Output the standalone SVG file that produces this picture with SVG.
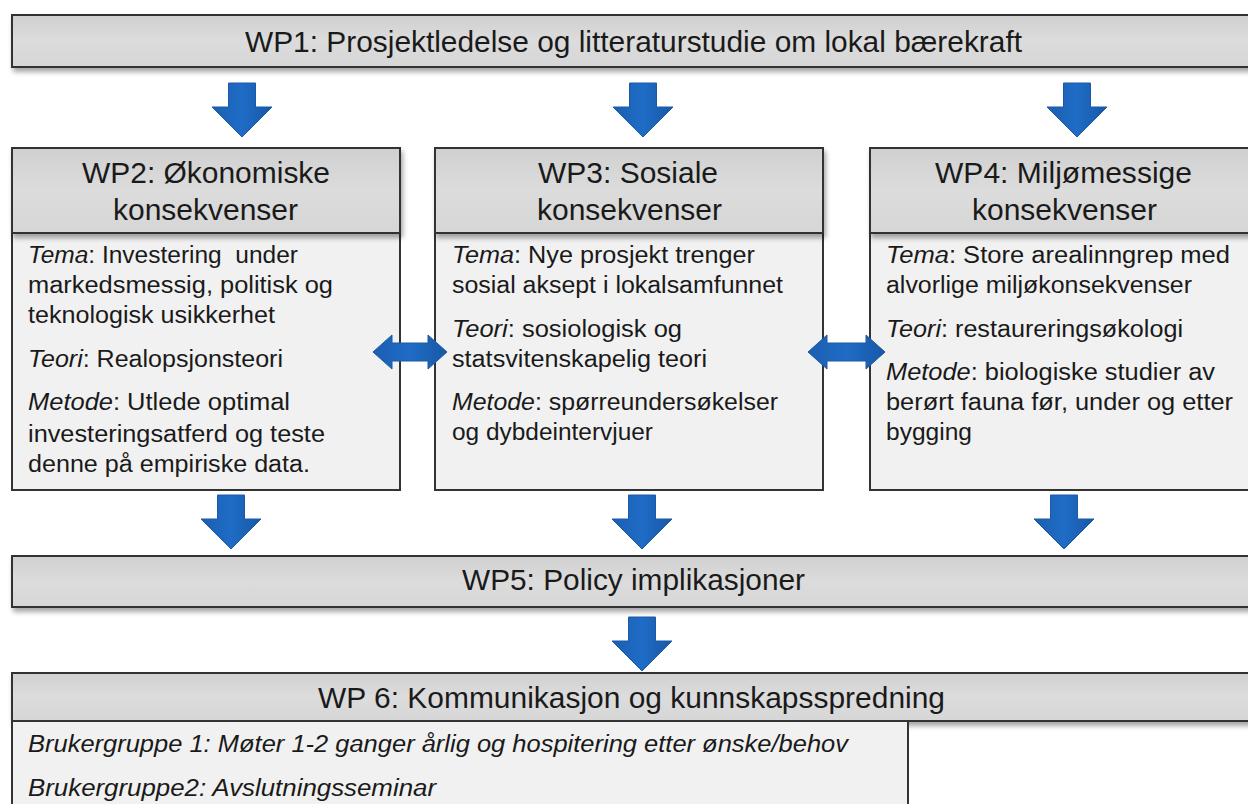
<svg xmlns="http://www.w3.org/2000/svg" width="1248" height="804" viewBox="0 0 1248 804">
<style>
text{font-family:"Liberation Sans",Arial,sans-serif;fill:#1a1a1a}
.h{font-size:29px}
.b{font-size:23px}
.i{font-style:italic}
.bar{fill:url(#gh);stroke:#333;stroke-width:2}
.body{fill:#f1f1f1;stroke:#333;stroke-width:2}
.arr{fill:url(#ga);stroke:#1d5aa6;stroke-width:1}
</style>
<defs>
<linearGradient id="gh" x1="0" y1="0" x2="0" y2="1">
<stop offset="0" stop-color="#d0d0d0"/><stop offset="0.5" stop-color="#dcdcdc"/><stop offset="1" stop-color="#d6d6d6"/>
</linearGradient>
<linearGradient id="ga" x1="0" y1="0" x2="1" y2="0">
<stop offset="0" stop-color="#1b5fb0"/><stop offset="0.5" stop-color="#1f6cc6"/><stop offset="1" stop-color="#1758a6"/>
</linearGradient>
<filter id="sh" x="-5%" y="-20%" width="110%" height="160%">
<feDropShadow dx="2" dy="4" stdDeviation="2.5" flood-color="#000" flood-opacity="0.35"/>
</filter>
<path id="down" d="M-13.5,0 H13.5 V24 H30 L0,54 L-30,24 H-13.5 Z"/>
</defs>

<g id="wp1">
<rect class="bar" x="12" y="15" width="1240" height="52" filter="url(#sh)"/>
<text class="h" x="245" y="52" textLength="777" lengthAdjust="spacingAndGlyphs">WP1: Prosjektledelse og litteraturstudie om lokal bærekraft</text>
</g>

<g id="wp2">
<rect class="body" x="12" y="233" width="388" height="257"/>
<rect class="bar" x="12" y="148" width="388" height="85" filter="url(#sh)"/>
<text class="h" x="82" y="183" textLength="248" lengthAdjust="spacingAndGlyphs">WP2: Økonomiske</text>
<text class="h" x="113" y="220" textLength="185" lengthAdjust="spacingAndGlyphs">konsekvenser</text>
<text class="b" x="28" y="263" textLength="270" lengthAdjust="spacingAndGlyphs"><tspan class="i">Tema</tspan>: Investering&#160; under</text>
<text class="b" x="28" y="293" textLength="305" lengthAdjust="spacingAndGlyphs">markedsmessig, politisk og</text>
<text class="b" x="28" y="323" textLength="247" lengthAdjust="spacingAndGlyphs">teknologisk usikkerhet</text>
<text class="b" x="28" y="367" textLength="255" lengthAdjust="spacingAndGlyphs"><tspan class="i">Teori</tspan>: Realopsjonsteori</text>
<text class="b" x="28" y="410" textLength="262" lengthAdjust="spacingAndGlyphs"><tspan class="i">Metode</tspan>: Utlede optimal</text>
<text class="b" x="28" y="442" textLength="297" lengthAdjust="spacingAndGlyphs">investeringsatferd og teste</text>
<text class="b" x="28" y="472" textLength="282" lengthAdjust="spacingAndGlyphs">denne på empiriske data.</text>
</g>

<g id="wp3">
<rect class="body" x="435" y="233" width="388" height="257"/>
<rect class="bar" x="435" y="148" width="388" height="85" filter="url(#sh)"/>
<text class="h" x="538" y="183" textLength="180" lengthAdjust="spacingAndGlyphs">WP3: Sosiale</text>
<text class="h" x="537" y="220" textLength="185" lengthAdjust="spacingAndGlyphs">konsekvenser</text>
<text class="b" x="452" y="263" textLength="303" lengthAdjust="spacingAndGlyphs"><tspan class="i">Tema</tspan>: Nye prosjekt trenger</text>
<text class="b" x="452" y="293" textLength="331" lengthAdjust="spacingAndGlyphs">sosial aksept i lokalsamfunnet</text>
<text class="b" x="452" y="337" textLength="230" lengthAdjust="spacingAndGlyphs"><tspan class="i">Teori</tspan>: sosiologisk og</text>
<text class="b" x="452" y="367" textLength="255" lengthAdjust="spacingAndGlyphs">statsvitenskapelig teori</text>
<text class="b" x="452" y="410" textLength="326" lengthAdjust="spacingAndGlyphs"><tspan class="i">Metode</tspan>: spørreundersøkelser</text>
<text class="b" x="452" y="440" textLength="201" lengthAdjust="spacingAndGlyphs">og dybdeintervjuer</text>
</g>

<g id="wp4">
<rect class="body" x="870" y="233" width="382" height="257"/>
<rect class="bar" x="870" y="148" width="382" height="85" filter="url(#sh)"/>
<text class="h" x="935" y="183" textLength="257" lengthAdjust="spacingAndGlyphs">WP4: Miljømessige</text>
<text class="h" x="972" y="220" textLength="185" lengthAdjust="spacingAndGlyphs">konsekvenser</text>
<text class="b" x="886" y="263" textLength="344" lengthAdjust="spacingAndGlyphs"><tspan class="i">Tema</tspan>: Store arealinngrep med</text>
<text class="b" x="886" y="293" textLength="306" lengthAdjust="spacingAndGlyphs">alvorlige miljøkonsekvenser</text>
<text class="b" x="886" y="337" textLength="297" lengthAdjust="spacingAndGlyphs"><tspan class="i">Teori</tspan>: restaureringsøkologi</text>
<text class="b" x="886" y="380" textLength="329" lengthAdjust="spacingAndGlyphs"><tspan class="i">Metode</tspan>: biologiske studier av</text>
<text class="b" x="886" y="410" textLength="347" lengthAdjust="spacingAndGlyphs">berørt fauna før, under og etter</text>
<text class="b" x="886" y="440" textLength="86" lengthAdjust="spacingAndGlyphs">bygging</text>
</g>

<g id="wp5">
<rect class="bar" x="12" y="556" width="1240" height="51" filter="url(#sh)"/>
<text class="h" x="462" y="590" textLength="343" lengthAdjust="spacingAndGlyphs">WP5: Policy implikasjoner</text>
</g>

<g id="wp6">
<rect class="bar" x="12" y="673" width="1240" height="48" filter="url(#sh)"/>
<rect class="body" x="12" y="721" width="896" height="95"/>
<text class="h" x="318" y="708" textLength="627" lengthAdjust="spacingAndGlyphs">WP 6: Kommunikasjon og kunnskapsspredning</text>
<text class="b i" x="28" y="752" textLength="820" lengthAdjust="spacingAndGlyphs">Brukergruppe 1: Møter 1-2 ganger årlig og hospitering etter ønske/behov</text>
<text class="b i" x="28" y="796" textLength="408" lengthAdjust="spacingAndGlyphs">Brukergruppe2: Avslutningsseminar</text>
</g>

<g id="connectors">
<use href="#down" class="arr" x="242" y="83"/>
<use href="#down" class="arr" x="643" y="83"/>
<use href="#down" class="arr" x="1077" y="83"/>
<use href="#down" class="arr" x="231" y="495"/>
<use href="#down" class="arr" x="642" y="495"/>
<use href="#down" class="arr" x="1064" y="495"/>
<use href="#down" class="arr" x="642" y="617"/>
<path class="arr" d="M373,352 L392,335 V343 H428 V335 L447,352 L428,369 V361 H392 V369 Z"/>
<path class="arr" d="M808,352 L827,335 V343 H866 V335 L885,352 L866,369 V361 H827 V369 Z"/>
</g>
</svg>
